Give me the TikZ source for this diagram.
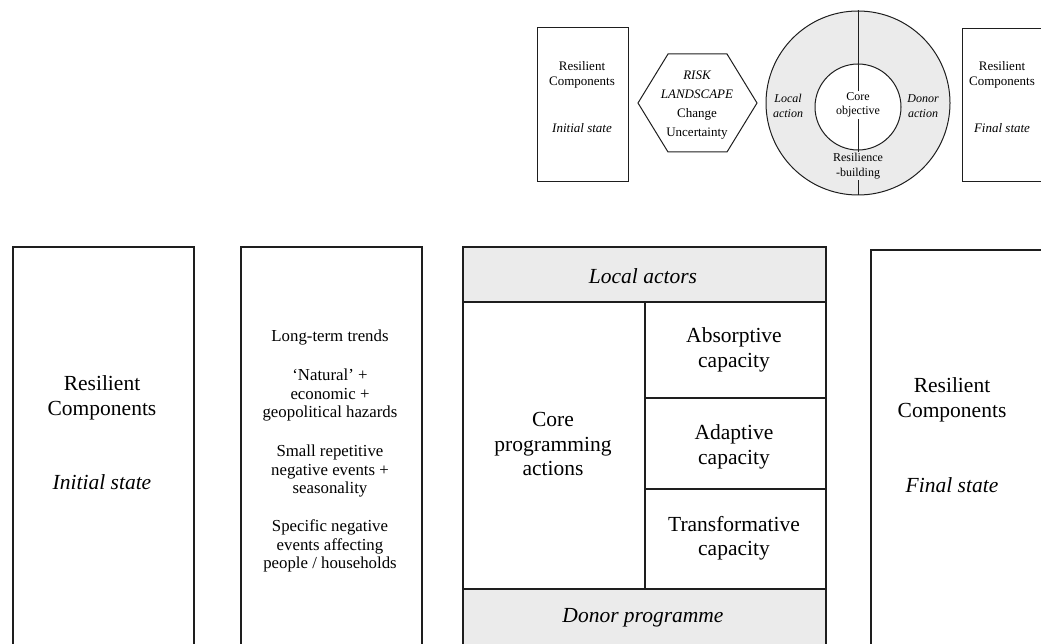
\documentclass[tikz,border=0pt]{standalone}
\usepackage{fontspec}
\setmainfont{Liberation Serif}
\definecolor{ringgray}{HTML}{EBEBEB}
\definecolor{linegray}{HTML}{1E1E1E}
\begin{document}
\begin{tikzpicture}[x=1pt,y=-1pt,
  heavy/.style={draw=linegray, line width=1.8pt},
  light/.style={draw=linegray, line width=1pt},
  cell/.style={rectangle, inner sep=0pt, anchor=north west},
  big/.style={font=\fontsize{21.5}{24.5}\selectfont, align=center, inner sep=0pt},
  mid/.style={font=\fontsize{16.8}{18.8}\selectfont, align=center, inner sep=0pt},
  small/.style={font=\fontsize{13}{15}\selectfont, align=center, inner sep=0pt},
  hexfont/.style={font=\fontsize{13}{19}\selectfont, align=center, inner sep=0pt},
  tiny/.style={font=\fontsize{12}{14.5}\selectfont, align=center},
  band/.style={fill=ringgray}]
\useasboundingbox (0,0) rectangle (1041,644);

% ---------- top row ----------
\node[cell, light, minimum width=91pt, minimum height=154pt] (tinit) at (537,27) {};
\node[small] (tinitA) at (582,75) {Resilient\\Components};
\node[small] (tinitB) at (582,128) {\itshape Initial state};

\coordinate (h1) at (638,103);
\coordinate (h2) at (668,54);
\coordinate (h3) at (727,54);
\coordinate (h4) at (757,103);
\coordinate (h5) at (727,152);
\coordinate (h6) at (668,152);
\draw[light] (h1) -- (h2) -- (h3) -- (h4) -- (h5) -- (h6) -- cycle;
\node[hexfont] (risk) at (697,105) {\itshape RISK\\\itshape LANDSCAPE\\Change\\Uncertainty};

\node[circle, light, band, minimum size=184pt, inner sep=0pt] (outer) at (858,103) {};
\node[circle, light, fill=white, minimum size=86pt, inner sep=0pt] (inner) at (858,107) {};
\draw[light] (outer.north) -- (outer.south);
\node[tiny, fill=white, inner sep=1.5pt] (core) at (858,105) {Core\\objective};
\node[tiny, inner sep=0pt] (local) at (788,106) {\itshape Local\\\itshape action};
\node[tiny, inner sep=0pt] (donor) at (923,106) {\itshape Donor\\\itshape action};
\node[tiny, fill=ringgray, inner sep=1.5pt] (resb) at (858,166) {Resilience\\-building};

\node[cell, light, minimum width=85pt, minimum height=153pt] (tfinal) at (962,28) {};
\node[small] (tfinalA) at (1002,75) {Resilient\\Components};
\node[small] (tfinalB) at (1002,128) {\itshape Final state};

% ---------- bottom row ----------
\node[cell, heavy, minimum width=181pt, minimum height=430pt] (binit) at (12,246) {};
\node[big] (binitA) at (102,398) {Resilient\\Components};
\node[big] (binitB) at (102,482) {\itshape Initial state};

\node[cell, heavy, minimum width=181pt, minimum height=430pt] (brisk) at (240,246) {};
\node[mid] (r1) at (330,337) {Long-term trends};
\node[mid] (r2) at (330,395) {‘Natural’ +\\economic +\\geopolitical hazards};
\node[mid] (r3) at (330,471) {Small repetitive\\negative events +\\seasonality};
\node[mid] (r4) at (330,546) {Specific negative\\events affecting\\people / households};

\node[cell, heavy, band, minimum width=363pt, minimum height=55pt] (lband) at (462,246) {};
\node[cell, heavy, minimum width=182pt, minimum height=287pt] (corecell) at (462,301) {};
\node[cell, heavy, minimum width=181pt, minimum height=96pt] (abs) at (644,301) {};
\node[cell, heavy, minimum width=181pt, minimum height=91pt] (adap) at (644,397) {};
\node[cell, heavy, minimum width=181pt, minimum height=100pt] (trans) at (644,488) {};
\node[cell, heavy, band, minimum width=363pt, minimum height=90pt] (dband) at (462,588) {};
\node[big] (lact) at (643,276) {\itshape Local actors};
\node[big] (cpa) at (553,444) {Core\\programming\\actions};
\node[big] (absT) at (734,350) {Absorptive\\capacity};
\node[big] (adapT) at (734,447) {Adaptive\\capacity};
\node[big] (transT) at (734,538) {Transformative\\capacity};
\node[big] (dprog) at (643,618) {\itshape Donor programme};

\node[cell, heavy, minimum width=240pt, minimum height=430pt] (bfinal) at (870,249) {};
\node[big] (bfinalA) at (952,400) {Resilient\\Components};
\node[big] (bfinalB) at (952,485) {\itshape Final state};
\end{tikzpicture}
\end{document}
